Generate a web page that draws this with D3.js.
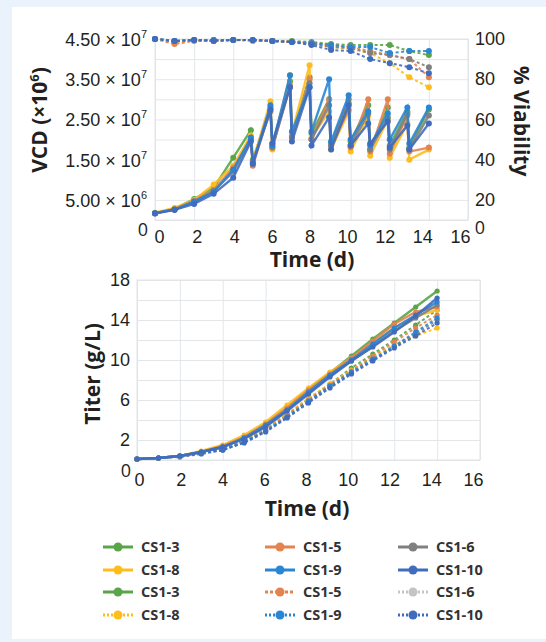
<!DOCTYPE html>
<html>
<head>
<meta charset="utf-8">
<script src="https://cdn.jsdelivr.net/npm/d3@7"></script>
<style>
  body { margin: 0; background: #eaf2fb; }
  svg { display: block; font-family: "Open Sans", sans-serif; }
</style>
</head>
<body>
<svg id="chart" width="546" height="642"></svg>
<script>
// ---- data ----
const seriesNames = ["CS1-3", "CS1-8", "CS1-5", "CS1-6", "CS1-9", "CS1-10"];

// VCD sampling times (d): pre- and post-bleed samples from day 5 on
const vcdDays = [0, 1, 2, 3, 4, 4.9, 5, 5.9, 6, 6.9, 7, 7.9, 8, 8.9, 9, 9.9, 10, 10.9, 11, 11.9, 12, 12.9, 13, 14];
// VCD in units of 10^6 cells/mL
const vcdCS1_3 = [1.7, 2.8, 5.2, 8.0, 15.5, 22.3, 15.0, 28.0, 19.0, 34.5, 21.0, 35.5, 21.5, 30.0, 19.0, 29.0, 19.5, 28.5, 17.5, 28.0, 18.5, 27.0, 18.0, 27.5];
const vcdCS1_8 = [1.8, 3.0, 5.0, 8.8, 13.5, 21.0, 14.5, 29.5, 17.5, 36.0, 21.5, 38.5, 20.5, 27.0, 17.5, 27.0, 17.0, 26.0, 16.0, 25.0, 15.5, 24.0, 15.0, 17.5];
const vcdCS1_5 = [1.7, 2.7, 4.8, 7.5, 13.0, 20.0, 13.5, 27.5, 18.0, 33.5, 20.5, 35.0, 20.0, 30.0, 18.5, 27.5, 18.0, 30.0, 17.0, 30.0, 16.5, 26.0, 17.0, 18.0];
const vcdCS1_6 = [1.7, 2.6, 4.5, 7.2, 12.0, 20.0, 14.5, 27.0, 18.0, 33.0, 20.5, 34.0, 20.0, 28.5, 18.5, 30.0, 18.5, 26.5, 17.5, 25.5, 17.5, 26.5, 17.5, 26.0];
const vcdCS1_9 = [1.7, 2.6, 4.6, 7.0, 12.5, 20.5, 14.0, 28.5, 18.5, 36.0, 22.0, 33.0, 22.0, 35.0, 19.5, 31.0, 20.0, 27.0, 18.5, 26.5, 20.0, 28.0, 19.0, 28.0];
const vcdCS1_10 = [1.6, 2.5, 4.0, 6.5, 10.5, 19.5, 14.0, 27.5, 19.0, 33.0, 19.5, 33.0, 18.5, 25.5, 17.5, 28.5, 18.5, 24.0, 19.0, 24.5, 18.0, 23.5, 17.5, 24.0];

const days = [0, 1, 2, 3, 4, 5, 6, 7, 8, 9, 10, 11, 12, 13, 14];
// % viability
const viaCS1_3 = [100, 99, 99.5, 99, 99.5, 99.5, 99, 99, 98.5, 97.5, 97, 97, 97, 94, 92];
const viaCS1_8 = [100, 98, 99.5, 99, 99.5, 99.5, 99, 98.5, 98, 96, 95, 93, 88, 81, 76];
const viaCS1_5 = [100, 97.5, 99, 99, 99.5, 99, 99, 98.5, 98, 97, 96, 94, 92, 90, 81];
const viaCS1_6 = [100, 99, 99.5, 99.5, 99.5, 99.5, 99, 98.5, 97.5, 96, 95.5, 93, 92, 90, 86];
const viaCS1_9 = [100, 99, 99.5, 99.5, 99.5, 99.5, 99, 98.5, 98, 97, 96, 96, 93, 94, 94];
const viaCS1_10 = [100, 99, 99.5, 99, 99.5, 99.5, 99, 98.5, 97, 94.5, 94, 90, 88, 86, 83];

// titer (g/L), solid condition
const titerCS1_3 = [0.1, 0.2, 0.4, 0.8, 1.4, 2.3, 3.6, 5.2, 7.0, 8.7, 10.4, 12.1, 13.7, 15.3, 16.9];
const titerCS1_8 = [0.1, 0.2, 0.4, 0.9, 1.5, 2.5, 3.8, 5.5, 7.2, 8.8, 10.2, 11.7, 13.2, 14.4, 15.0];
const titerCS1_5 = [0.1, 0.2, 0.4, 0.8, 1.4, 2.3, 3.6, 5.2, 7.0, 8.6, 10.2, 11.9, 13.6, 14.8, 15.3];
const titerCS1_6 = [0.1, 0.2, 0.4, 0.8, 1.3, 2.2, 3.4, 5.0, 6.7, 8.4, 9.9, 11.4, 12.9, 14.2, 15.5];
const titerCS1_9 = [0.1, 0.2, 0.4, 0.8, 1.3, 2.2, 3.5, 5.0, 6.8, 8.5, 10.0, 11.6, 13.2, 14.5, 15.8];
const titerCS1_10 = [0.1, 0.2, 0.4, 0.8, 1.3, 2.1, 3.3, 4.9, 6.6, 8.3, 9.9, 11.3, 12.8, 14.4, 16.2];
// titer (g/L), dotted condition
const titer2CS1_3 = [0.1, 0.2, 0.4, 0.7, 1.1, 1.9, 3.0, 4.5, 6.1, 7.6, 9.2, 10.6, 12.0, 13.5, 15.0];
const titer2CS1_8 = [0.1, 0.2, 0.4, 0.7, 1.2, 2.0, 3.1, 4.6, 6.2, 7.6, 9.0, 10.3, 11.5, 12.4, 13.2];
const titer2CS1_5 = [0.1, 0.2, 0.4, 0.7, 1.1, 1.9, 3.0, 4.5, 6.0, 7.5, 8.9, 10.4, 11.8, 13.2, 14.5];
const titer2CS1_6 = [0.1, 0.2, 0.4, 0.7, 1.0, 1.8, 2.9, 4.3, 5.8, 7.3, 8.7, 10.0, 11.3, 12.6, 14.0];
const titer2CS1_9 = [0.1, 0.2, 0.4, 0.7, 1.0, 1.8, 2.9, 4.3, 5.9, 7.4, 8.8, 10.1, 11.4, 12.8, 14.2];
const titer2CS1_10 = [0.1, 0.2, 0.3, 0.6, 1.0, 1.7, 2.8, 4.2, 5.7, 7.2, 8.6, 9.9, 11.2, 12.4, 13.7];

const xTickValues = [0, 2, 4, 6, 8, 10, 12, 14, 16];
const vcdTickValues = [5, 15, 25, 35, 45];
const viaTickValues = [20, 40, 60, 80, 100];
const titerTickValues = [2, 6, 10, 14, 18];

// ---- styles ----
const colors = {
  "CS1-3": "#5aa547",
  "CS1-8": "#ffbd1c",
  "CS1-5": "#e4834f",
  "CS1-6": "#808080",
  "CS1-9": "#2a86d4",
  "CS1-10": "#3f6cbf"
};
const gridColor = "#e3e7ea";
const textColor = "#231f20";

const vcd = [vcdCS1_3, vcdCS1_8, vcdCS1_5, vcdCS1_6, vcdCS1_9, vcdCS1_10];
const via = [viaCS1_3, viaCS1_8, viaCS1_5, viaCS1_6, viaCS1_9, viaCS1_10];
const titer = [titerCS1_3, titerCS1_8, titerCS1_5, titerCS1_6, titerCS1_9, titerCS1_10];
const titer2 = [titer2CS1_3, titer2CS1_8, titer2CS1_5, titer2CS1_6, titer2CS1_9, titer2CS1_10];

const svg = d3.select("#chart");
svg.append("rect")
  .attr("x", 12).attr("y", 7)
  .attr("width", 534).attr("height", 632)
  .attr("fill", "#fff");

function grid(g, x, y, xVals, yVals) {
  const [x0, x1] = x.range();
  const [y0, y1] = y.range();
  g.append("g")
    .attr("transform", `translate(0,${y0})`)
    .call(d3.axisBottom(x).tickValues(xVals).tickSize(-(y0 - y1)).tickFormat(""))
    .call((a) => a.select(".domain").remove());
  g.append("g")
    .attr("transform", `translate(${x0},0)`)
    .call(d3.axisLeft(y).tickValues(yVals).tickSize(-(x1 - x0)).tickFormat(""))
    .call((a) => a.select(".domain").remove());
  g.selectAll("line").attr("stroke", gridColor).attr("stroke-width", 1);
  g.append("rect")
    .attr("x", x0).attr("y", y1)
    .attr("width", x1 - x0).attr("height", y0 - y1)
    .attr("fill", "none").attr("stroke", "#dfe3e6");
}

function drawSeries(g, x, y, xs, ys, color, dashed, r) {
  const pts = xs.map((d, i) => [d, ys[i]]);
  const line = d3.line().x((d) => x(d[0])).y((d) => y(d[1]));
  g.append("path")
    .datum(pts)
    .attr("d", line)
    .attr("fill", "none")
    .attr("stroke", color)
    .attr("stroke-width", dashed ? 2 : 2.4)
    .attr("stroke-dasharray", dashed ? "3,2.5" : null)
    .attr("opacity", 0.9);
  g.selectAll(null)
    .data(pts)
    .enter()
    .append("circle")
    .attr("cx", (d) => x(d[0]))
    .attr("cy", (d) => y(d[1]))
    .attr("r", r)
    .attr("fill", color);
}

function styleTicks(a, size) {
  a.select(".domain").remove();
  a.selectAll("text")
    .attr("fill", textColor)
    .attr("font-size", size);
}

// ---- top chart: VCD and viability ----
const xTop = d3.scaleLinear().domain([0, 16]).range([155, 468]);
// tick labels in the source sit slightly inside the gridlines
const xTopLabels = d3.scaleLinear().domain([0, 16]).range([159, 460]);
const yVcd = d3.scaleLinear().domain([0, 45]).range([220, 39]);
const yVia = d3.scaleLinear().domain([10, 100]).range([220, 39]);

const topChart = svg.append("g");
grid(topChart.append("g"), xTop, yVcd, xTickValues, d3.range(0, 46, 5));

const topLines = topChart.append("g");
seriesNames.forEach((name, i) => {
  drawSeries(topLines, xTop, yVia, days, via[i], colors[name], true, 3);
});
seriesNames.forEach((name, i) => {
  drawSeries(topLines, xTop, yVcd, vcdDays, vcd[i], colors[name], false, 3);
});

topChart.append("g")
  .attr("transform", "translate(0,220)")
  .call(d3.axisBottom(xTopLabels).tickValues(xTickValues).tickSize(0).tickPadding(10))
  .call((a) => styleTicks(a, 18));

topChart.append("g")
  .attr("transform", "translate(147,0)")
  .call(d3.axisLeft(yVcd).tickValues(vcdTickValues).tickSize(0).tickPadding(0).tickFormat(""))
  .call((a) => styleTicks(a, 18))
  .selectAll(".tick text")
  .each(function (d) {
    const v = d * 1e6;
    const exp = Math.floor(Math.log10(v));
    const mant = (v / Math.pow(10, exp)).toFixed(2);
    const t = d3.select(this).attr("dy", "0.36em");
    t.append("tspan").text(mant + " × 10");
    t.append("tspan").attr("dy", -8).attr("font-size", 11).text(exp);
  });

topChart.append("g")
  .attr("transform", "translate(468,0)")
  .call(d3.axisRight(yVia).tickValues(viaTickValues).tickSize(0).tickPadding(7))
  .call((a) => styleTicks(a, 18));

topChart.append("text")
  .attr("x", 143).attr("y", 236)
  .attr("text-anchor", "middle")
  .attr("font-size", 18).attr("fill", textColor)
  .text("0");
topChart.append("text")
  .attr("x", 480).attr("y", 234)
  .attr("text-anchor", "middle")
  .attr("font-size", 18).attr("fill", textColor)
  .text("0");

topChart.append("text")
  .attr("x", 312).attr("y", 267)
  .attr("text-anchor", "middle")
  .attr("font-size", 21).attr("font-weight", "bold").attr("fill", textColor)
  .text("Time (d)");

const vcdTitle = topChart.append("text")
  .attr("transform", "translate(47,120) rotate(-90)")
  .attr("text-anchor", "middle")
  .attr("font-size", 21).attr("font-weight", "bold").attr("fill", textColor);
vcdTitle.append("tspan").text("VCD (×10");
vcdTitle.append("tspan").attr("dy", -8).attr("font-size", 13).text("6");
vcdTitle.append("tspan").attr("dy", 8).text(")");

topChart.append("text")
  .attr("transform", "translate(514,121) rotate(90)")
  .attr("text-anchor", "middle")
  .attr("font-size", 21).attr("font-weight", "bold").attr("fill", textColor)
  .text("% Viability");

// ---- bottom chart: titer ----
const xBot = d3.scaleLinear().domain([0, 16]).range([137, 480]);
const xBotLabels = d3.scaleLinear().domain([0, 16]).range([139, 473]);
const yTiter = d3.scaleLinear().domain([0, 18]).range([460, 280]);

const botChart = svg.append("g");
grid(botChart.append("g"), xBot, yTiter, xTickValues, d3.range(0, 19, 2));

const botLines = botChart.append("g");
seriesNames.forEach((name, i) => {
  drawSeries(botLines, xBot, yTiter, days, titer2[i], colors[name], true, 2.6);
});
seriesNames.forEach((name, i) => {
  drawSeries(botLines, xBot, yTiter, days, titer[i], colors[name], false, 2.6);
});

botChart.append("g")
  .attr("transform", "translate(0,460)")
  .call(d3.axisBottom(xBotLabels).tickValues(xTickValues).tickSize(0).tickPadding(13))
  .call((a) => styleTicks(a, 18));

botChart.append("g")
  .attr("transform", "translate(130,0)")
  .call(d3.axisLeft(yTiter).tickValues(titerTickValues).tickSize(0).tickPadding(0))
  .call((a) => styleTicks(a, 18));

botChart.append("text")
  .attr("x", 126).attr("y", 477)
  .attr("text-anchor", "middle")
  .attr("font-size", 18).attr("fill", textColor)
  .text("0");

botChart.append("text")
  .attr("x", 307).attr("y", 516)
  .attr("text-anchor", "middle")
  .attr("font-size", 21).attr("font-weight", "bold").attr("fill", textColor)
  .text("Time (d)");

botChart.append("text")
  .attr("transform", "translate(100,374) rotate(-90)")
  .attr("text-anchor", "middle")
  .attr("font-size", 21).attr("font-weight", "bold").attr("fill", textColor)
  .text("Titer (g/L)");

// ---- legend ----
const legendItems = [
  { name: "CS1-3", col: 0, row: 0, dash: null, color: colors["CS1-3"] },
  { name: "CS1-8", col: 0, row: 1, dash: null, color: colors["CS1-8"] },
  { name: "CS1-3", col: 0, row: 2, dash: null, color: colors["CS1-3"] },
  { name: "CS1-8", col: 0, row: 3, dash: "2,2", color: colors["CS1-8"] },
  { name: "CS1-5", col: 1, row: 0, dash: null, color: colors["CS1-5"] },
  { name: "CS1-9", col: 1, row: 1, dash: null, color: colors["CS1-9"] },
  { name: "CS1-5", col: 1, row: 2, dash: "3,2", color: colors["CS1-5"] },
  { name: "CS1-9", col: 1, row: 3, dash: "2,2", color: colors["CS1-9"] },
  { name: "CS1-6", col: 2, row: 0, dash: null, color: colors["CS1-6"] },
  { name: "CS1-10", col: 2, row: 1, dash: null, color: colors["CS1-10"] },
  { name: "CS1-6", col: 2, row: 2, dash: "2,2", color: "#c4c4c4" },
  { name: "CS1-10", col: 2, row: 3, dash: "2,2", color: colors["CS1-10"] }
];
const legendX = [103, 265, 398];
const legendY = [547, 570, 592, 615];

const legend = svg.append("g")
  .selectAll("g")
  .data(legendItems)
  .enter()
  .append("g")
  .attr("transform", (d) => `translate(${legendX[d.col]},${legendY[d.row]})`);

legend.append("line")
  .attr("x1", 0).attr("x2", 30)
  .attr("stroke", (d) => d.color)
  .attr("stroke-width", 3)
  .attr("stroke-dasharray", (d) => d.dash);
legend.append("circle")
  .attr("cx", 15).attr("r", 4.5)
  .attr("fill", (d) => d.color);
legend.append("text")
  .attr("x", 38).attr("dy", "0.36em")
  .attr("font-size", 14.5).attr("font-weight", "bold").attr("fill", "#333")
  .text((d) => d.name);
</script>
</body>
</html>
